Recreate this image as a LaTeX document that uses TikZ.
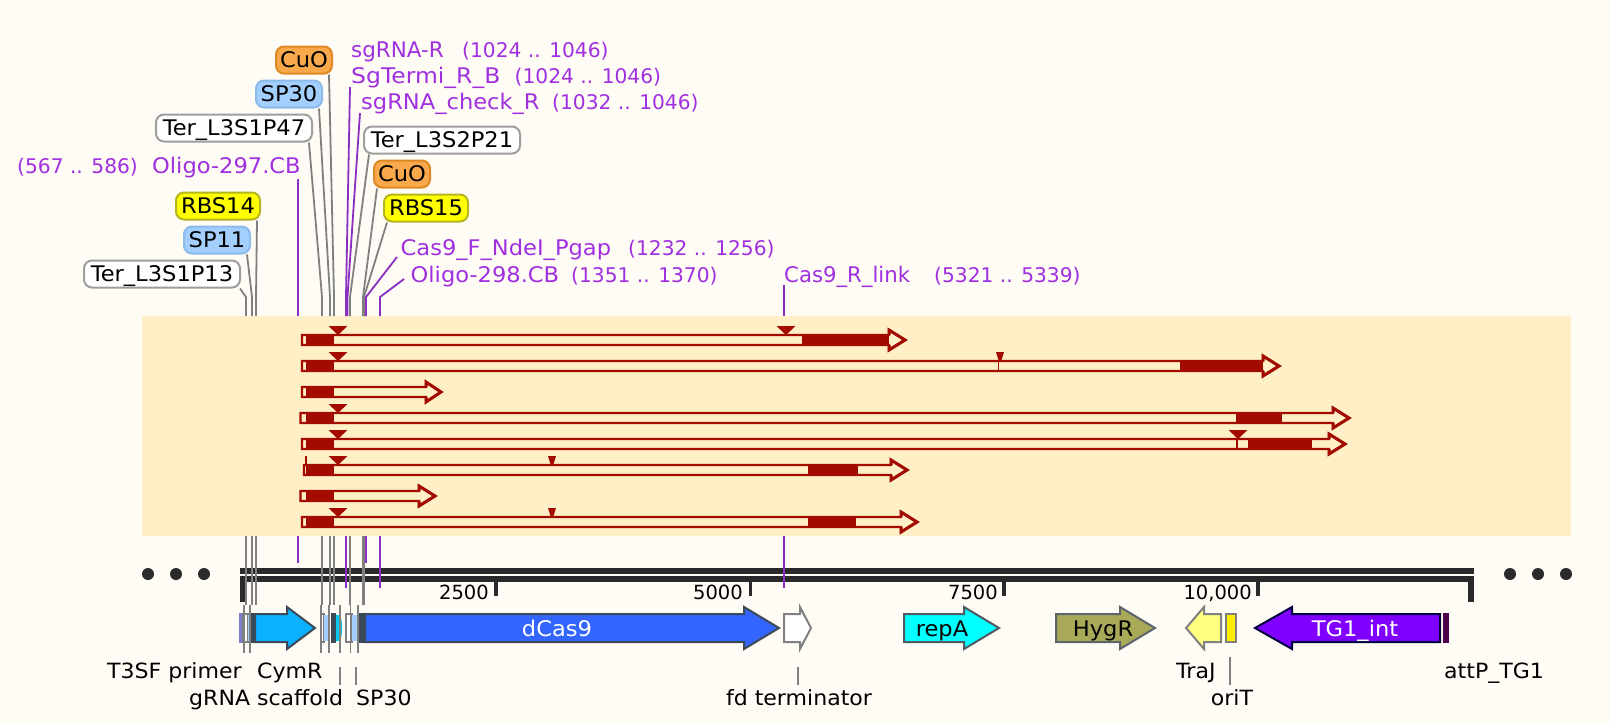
\documentclass[tikz,border=0pt]{standalone}
\usepackage{fontspec}
\setmainfont[FakeStretch=1.05]{DejaVu Sans}
\newfontfamily\plainfont{DejaVu Sans}
\definecolor{paper}{HTML}{FFFCF5}
\definecolor{bandc}{HTML}{FEEFC6}
\definecolor{readc}{HTML}{A30A00}
\definecolor{oligo}{HTML}{A02FE0}
\definecolor{oligod}{HTML}{8A2FC0}
\definecolor{leadc}{HTML}{808080}
\definecolor{rulec}{HTML}{2A2A2A}
\definecolor{edgec}{HTML}{3A4A58}
\definecolor{spblue}{HTML}{A3CFFF}
\definecolor{spedge}{HTML}{8DBBEA}
\definecolor{orfill}{HTML}{F9A94B}
\definecolor{oredge}{HTML}{DD8A25}
\definecolor{yfill}{RGB}{255,255,0}
\definecolor{yedge}{HTML}{B5B520}
\definecolor{cymr}{HTML}{0BB0FF}
\definecolor{scaff}{HTML}{00C8F0}
\definecolor{aqua}{RGB}{0,255,255}
\tikzset{
  x=1pt,y=-1pt,
  lab/.style={font=\fontsize{21.5}{22}\selectfont,inner sep=0pt,anchor=base west,text=black},
  blab/.style={lab,font=\fontsize{21}{22}\selectfont},
  olab/.style={lab,text=oligo},
  rlab/.style={olab,font=\plainfont\fontsize{20.2}{22}\selectfont},
  tick/.style={font=\plainfont\fontsize{19.5}{20}\selectfont,inner sep=0pt,anchor=base east,text=black},
  tag/.style={font=\fontsize{21.5}{22}\selectfont,inner sep=0pt,rounded corners=8pt,line width=2pt,minimum height=27pt,text=black,text height=15pt,text depth=0pt},
  tagw/.style={tag,draw=black!38,fill=white},
  tago/.style={tag,draw=oredge,fill=orfill},
  tagb/.style={tag,draw=spedge,fill=spblue},
  tagy/.style={tag,draw=yedge,fill=yfill},
  glead/.style={draw=leadc,line width=1.8pt},
  plead/.style={draw=oligod,line width=1.8pt},
  readl/.style={draw=readc,line width=2.3pt,miter limit=10},
  readh/.style={draw=readc,line width=3pt,miter limit=10},
  feat/.style={draw=edgec,line width=2pt,miter limit=10},
}
\newcommand\leadto[4]{\coordinate (#1k) at (#4,297);\coordinate (#1e) at (#4,316);\draw[#2] #3 -- (#1k) -- (#1e);}
\newcommand\readarrow[4]{\draw[readl] (#2,#1-5) -- (#3,#1-5) -- (#3,#1-10) -- (#4,#1) -- (#3,#1+10) -- (#3,#1+5) -- (#2,#1+5) -- cycle;
  \draw[readh] (#3,#1-5) -- (#3,#1-10) -- (#4,#1) -- (#3,#1+10) -- (#3,#1+5);}
\newcommand\darkseg[3]{\fill[readc] (#2,#1-6) rectangle (#3,#1+6);}
\newcommand\bigtri[2]{\fill[readc] (#2-9.5,#1-14) -- (#2+9.5,#1-14) -- (#2+1,#1-6) -- (#2-1,#1-6) -- cycle;}
\newcommand\smalltri[2]{\fill[readc] (#2-4,#1-14) -- (#2+4,#1-14) -- (#2+1.5,#1-6) -- (#2-1.5,#1-6) -- cycle;}
\newcommand\glinebelow[1]{\draw[glead] (#1,536) -- (#1,605);}
\begin{document}
\begin{tikzpicture}
\useasboundingbox (0,0) rectangle (1610,724);
\fill[paper] (0,0) rectangle (1610,724);
\fill[bandc] (142,316) rectangle (1571,536);

% upper labels
\node[tago] (cuoA) at (304,60) [minimum width=56pt] {CuO};
\node[tagb] (spA) at (289,94) [minimum width=66pt] {SP30};
\node[tagw] (terA) at (234,128) [minimum width=156pt] {Ter\_L3S1P47};
\node[tagy] (rbsA) at (218,206) [minimum width=84pt] {RBS14};
\node[tagb] (spB) at (217,240) [minimum width=66pt] {SP11};
\node[tagw] (terB) at (162,274) [minimum width=156pt] {Ter\_L3S1P13};
\node[tagw] (terC) at (442,140) [minimum width=156pt] {Ter\_L3S2P21};
\node[tago] (cuoB) at (402,174) [minimum width=56pt] {CuO};
\node[tagy] (rbsB) at (426,208) [minimum width=84pt] {RBS15};

\node[rlab] (oA) at (17,173) {(567 .. 586)};
\node[olab] (oB) at (152,173) {Oligo-297.CB};
\node[olab] (oC) at (351,57) {\scalebox{0.95}[1]{sgRNA-R}};
\node[rlab] (oCr) at (462,57) {(1024 .. 1046)};
\node[olab] (oD) at (351,83) {\scalebox{1.04}[1]{SgTermi\_R\_B}};
\node[rlab] (oDr) at (514.5,83) {(1024 .. 1046)};
\node[olab] (oE) at (361,109) {sgRNA\_check\_R};
\node[rlab] (oEr) at (552,109) {(1032 .. 1046)};
\node[olab] (oF) at (400.5,255) {Cas9\_F\_NdeI\_Pgap};
\node[rlab] (oFr) at (628,255) {(1232 .. 1256)};
\node[olab] (oG) at (410.5,282) {Oligo-298.CB};
\node[rlab] (oGr) at (571,282) {(1351 .. 1370)};
\node[olab] (oH) at (784,282) {\scalebox{0.94}[1]{Cas9\_R\_link}};
\node[rlab] (oHr) at (934,282) {(5321 .. 5339)};

% ruler
\fill[rulec] (240,568) rectangle (1474,574);
\fill[rulec] (240,576) rectangle (1474,582);
\fill[rulec] (240,576) rectangle (245,602);
\fill[rulec] (1468,576) rectangle (1474,602);
\fill[rulec] (494,576) rectangle (498,596);
\fill[rulec] (748.5,576) rectangle (752,596);
\fill[rulec] (1002,576) rectangle (1006,596);
\fill[rulec] (1256,576) rectangle (1260,596);
\node[tick] (t1) at (489,599) {2500};
\node[tick] (t2) at (743,599) {5000};
\node[tick] (t3) at (998,599) {7500};
\node[tick] (t4) at (1252,599) {10,000};
\foreach \x in {148,176,204,1510,1538,1566}
  \fill[rulec] (\x,574) circle (6);

% leaders above the band
\leadto{lA}{glead}{([xshift=-4pt]cuoA.south east)}{334}
\leadto{lB}{glead}{([xshift=-4pt]spA.south east)}{330}
\leadto{lC}{glead}{([xshift=-4pt]terA.south east)}{322}
\leadto{lD}{glead}{([xshift=-4pt]rbsA.south east)}{256}
\leadto{lE}{glead}{([xshift=-4pt]spB.south east)}{252}
\leadto{lF}{glead}{([xshift=-1pt]terB.south east)}{246}
\leadto{lG}{glead}{([xshift=6pt]terC.south west)}{350}
\leadto{lH}{glead}{([xshift=4pt]cuoB.south west)}{363}
\leadto{lI}{glead}{([xshift=4pt]rbsB.south west)}{364}
\coordinate (pAs) at (298,179);\coordinate (pAe) at (298,316);
\draw[plead] (pAs) -- (pAe);
\coordinate (pBs) at (350,87);
\leadto{pB}{plead}{(pBs)}{346}
\coordinate (pCs) at (360,113);
\leadto{pC}{plead}{(pCs)}{347.5}
\coordinate (pDs) at (397,257);
\leadto{pD}{plead}{(pDs)}{366}
\coordinate (pEs) at (404,279);
\leadto{pE}{plead}{(pEs)}{380}
\coordinate (pFs) at (784,285);\coordinate (pFe) at (784,316);
\draw[plead] (pFs) -- (pFe);

% below the band
\foreach \x in {246,252,256,322,330,334,350,363,364.5} {\glinebelow{\x}}
\draw[plead] (298,536) -- (298,563);
\draw[plead] (346,536) -- (346,588);
\draw[plead] (366,536) -- (366,563);
\draw[plead] (380,536) -- (380,588);
\draw[plead] (784,536) -- (784,588);

% reads
\readarrow{340}{302}{889}{905}
\readarrow{366}{302}{1263}{1279}
\readarrow{392}{302}{426}{441}
\readarrow{418}{300.5}{1333}{1349}
\readarrow{444}{302}{1329}{1345}
\readarrow{470}{304}{891}{907}
\readarrow{496}{300.5}{419}{435}
\readarrow{522}{302}{901}{917}
\foreach \y in {340,366,392,418,444,470,496,522} {\darkseg{\y}{305.5}{334}}
\darkseg{340}{802}{889}
\darkseg{366}{1180}{1263}
\darkseg{418}{1236}{1282}
\darkseg{444}{1248}{1312}
\darkseg{470}{808}{858}
\darkseg{522}{808}{856}
\foreach \y in {340,366,418,444,470,522} {\bigtri{\y}{338}}
\bigtri{340}{786}
\bigtri{444}{1238}
\smalltri{366}{1000}
\smalltri{470}{552}
\smalltri{522}{552}
\draw[readc,line width=1.2pt] (998.5,360) -- (998.5,372);
\draw[readc,line width=1.2pt] (1237,438) -- (1237,450);
\draw[readc,line width=1.3pt] (306,456) -- (306,464);

% features
\fill[blue!45!gray!70!white] (239,613) rectangle (243,643);
\draw[draw=leadc,fill=white,line width=2pt] (243,614) rectangle (248,642);
\fill[spblue] (248,615) rectangle (251,641);
\fill[edgec] (251,613) rectangle (254,643);
\draw[feat,fill=cymr] (255,614) -- (287,614) -- (287,607) -- (315,628) -- (287,649) -- (287,642) -- (255,642) -- cycle;
\draw[draw=leadc,fill=white,line width=2pt] (321,614) rectangle (324,642);
\fill[spblue] (324,615) rectangle (329,641);
\fill[edgec] (331,613) rectangle (336,643);
\fill[scaff] (336,615) -- (340,615) .. controls (343,622) and (343,634) .. (340,641) -- (336,641) -- cycle;
\draw[draw=leadc,fill=white,line width=2pt] (346,614) rectangle (352,642);
\fill[spblue] (352,615) rectangle (357,641);
\fill[edgec] (359,613) rectangle (365,643);
\foreach \x in {244,250,321,329,340,350.5,358} {\draw[glead] (\x,605) -- (\x,653);}

\draw[feat,fill={rgb,255:red,51;green,102;blue,255}] (365,614) -- (744,614) -- (744,607) -- (779,628) -- (744,649) -- (744,642) -- (365,642) -- cycle;
\node[lab,text=white,anchor=base] (dcas) at (557,636) {dCas9};
\draw[draw=leadc,line width=2pt,fill=white,miter limit=10] (784,614) -- (800,614) -- (800,607) -- (811,628) -- (800,649) -- (800,642) -- (784,642) -- cycle;
\draw[draw=edgec!70!gray,line width=2pt,fill=aqua,miter limit=10] (904,614) -- (964,614) -- (964,607) -- (999,628) -- (964,649) -- (964,642) -- (904,642) -- cycle;
\node[lab,anchor=base] (repa) at (942,636) {repA};
\draw[draw=edgec!50!gray,line width=2pt,fill={rgb,255:red,169;green,169;blue,90},miter limit=10] (1056,614) -- (1120,614) -- (1120,607) -- (1155,628) -- (1120,649) -- (1120,642) -- (1056,642) -- cycle;
\node[lab,anchor=base] (hygr) at (1103,636) {HygR};
\draw[draw=leadc,line width=2pt,fill={rgb,255:red,255;green,255;blue,128},miter limit=10] (1221,614) -- (1204,614) -- (1204,607) -- (1186,628) -- (1204,649) -- (1204,642) -- (1221,642) -- cycle;
\draw[draw=leadc,line width=2pt,fill={rgb,255:red,255;green,238;blue,0}] (1226,614) rectangle (1236,642);
\draw[feat,draw=black!75!blue,fill={rgb,255:red,128;green,0;blue,255}] (1440,614) -- (1292,614) -- (1292,607) -- (1255,628) -- (1292,649) -- (1292,642) -- (1440,642) -- cycle;
\node[lab,text=white,anchor=base] (tg) at (1355,636) {TG1\_int};
\fill[black!25!violet!80!black] (1443,613) rectangle (1449,643);

% lower labels
\node[blab] (l1) at (107,678) {T3SF primer};
\node[blab] (l2) at (257,678) {CymR};
\node[blab] (l3) at (189,705) {gRNA scaffold};
\node[blab] (l4) at (356,705) {SP30};
\node[blab,anchor=base] (l5) at (799,705) {fd terminator};
\node[blab] (l6) at (1176,678) {TraJ};
\node[blab,anchor=base] (l7) at (1232,705) {oriT};
\node[blab] (l8) at (1444,678) {attP\_TG1};
\coordinate (c3) at (340,667);\coordinate (c4) at (356,667);\coordinate (c5) at (798,667);\coordinate (c7) at (1230,657);
\draw[glead,line width=1.3pt] (c3) -- (c3 |- 0,685);
\draw[glead,line width=1.3pt] (c4) -- (c4 |- 0,685);
\draw[glead,line width=1.3pt] (c5) -- (c5 |- 0,685);
\draw[glead,line width=1.3pt] (c7) -- (c7 |- 0,685);
\end{tikzpicture}
\end{document}
